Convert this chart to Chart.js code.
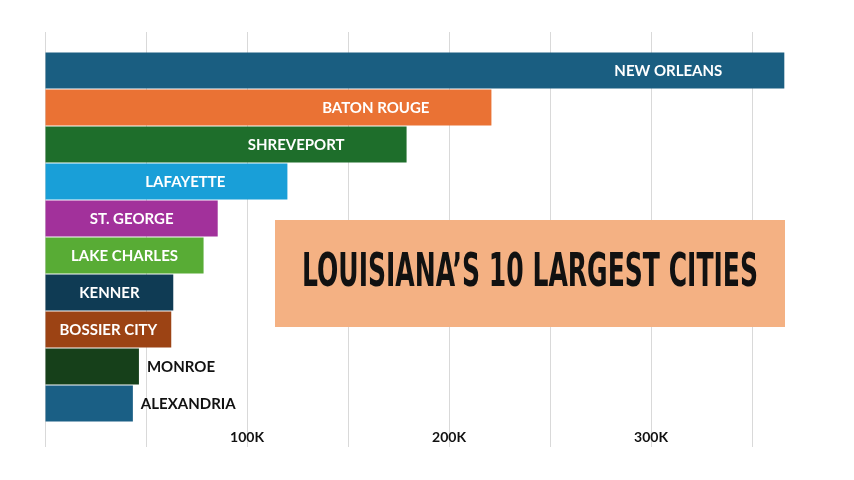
<!DOCTYPE html>
<html>
<head>
<meta charset="utf-8">
<script src="https://cdn.jsdelivr.net/npm/chart.js@4.4.1/dist/chart.umd.min.js"></script>
<style>
  html, body { margin: 0; padding: 0; background: #fff; }
  #wrap { width: 854px; height: 480px; }
</style>
</head>
<body>
<div id="wrap"><canvas id="chart" width="854" height="480"></canvas></div>
<script>
// 数据
const cities = ['NEW ORLEANS', 'BATON ROUGE', 'SHREVEPORT', 'LAFAYETTE', 'ST. GEORGE',
    'LAKE CHARLES', 'KENNER', 'BOSSIER CITY', 'MONROE', 'ALEXANDRIA'];
const population = [366000, 221000, 179000, 120000, 85500, 78500, 63500, 62500, 46500, 43500];
const gridValues = [0, 50000, 100000, 150000, 200000, 250000, 300000, 350000];
const tickLabels = ['', '', '100K', '', '200K', '', '300K', ''];
const xMax = 375000;
const title = 'LOUISIANA\u2019S 10 LARGEST CITIES';

const barColors = ['#1a5e81', '#ea7234', '#1e6e2b', '#199fd8', '#a2319b',
    '#58ac35', '#0f3b54', '#9c4314', '#16401a', '#1a5f85'];

// 固定刻度
function setTicks(scale) {
    scale.ticks = gridValues.map(v => ({ value: v }));
}

// 条形上的城市名
const barLabels = {
    id: 'barLabels',
    afterDatasetsDraw(chart) {
        const ctx = chart.ctx;
        const meta = chart.getDatasetMeta(0);
        ctx.save();
        ctx.font = 'bold 15px Lato, "Open Sans", sans-serif';
        ctx.textBaseline = 'middle';
        meta.data.forEach((bar, i) => {
            const text = cities[i];
            const w = bar.x - bar.base;
            const tw = ctx.measureText(text).width;
            const room = w - tw;
            if (room < 26) {
                ctx.fillStyle = '#111';
                ctx.textAlign = 'left';
                ctx.fillText(text, bar.x + 8, bar.y + 1);
            } else {
                const gap = Math.min(62, room / 2);
                ctx.fillStyle = '#fff';
                ctx.textAlign = 'right';
                ctx.fillText(text, bar.x - gap, bar.y + 1);
            }
        });
        ctx.restore();
    }
};

// 标题框
const titleBox = {
    id: 'titleBox',
    afterDraw(chart) {
        const ctx = chart.ctx;
        const x = 275, y = 220, w = 510, h = 107;
        ctx.save();
        ctx.fillStyle = '#f4b183';
        ctx.fillRect(x, y, w, h);
        ctx.font = 'bold 46px "Liberation Sans Narrow", "DejaVu Sans Condensed", sans-serif';
        ctx.fillStyle = '#111';
        ctx.textBaseline = 'middle';
        ctx.textAlign = 'left';
        const tw = ctx.measureText(title).width;
        const target = 456;
        ctx.translate(x + w / 2 - target / 2, y + h / 2 + 1);
        ctx.scale(target / tw, 1);
        ctx.fillText(title, 0, 0);
        ctx.restore();
    }
};

const ctx = document.getElementById('chart').getContext('2d');
new Chart(ctx, {
    type: 'bar',
    data: {
        labels: cities,
        datasets: [{
            data: population,
            backgroundColor: barColors,
            borderWidth: 0,
            categoryPercentage: 1,
            barPercentage: 0.97
        }]
    },
    options: {
        indexAxis: 'y',
        responsive: false,
        animation: false,
        layout: { padding: { left: 45, right: 51.5, top: 0, bottom: 0 } },
        plugins: { legend: { display: false }, tooltip: { enabled: false } },
        scales: {
            y: { display: false },
            x: {
                position: 'bottom',
                min: 0,
                max: xMax,
                afterBuildTicks: setTicks,
                afterFit(scale) { scale.height = 58; },
                border: { display: false },
                grid: { color: '#d9d9d9', tickColor: '#d9d9d9', lineWidth: 1, tickLength: 25 },
                ticks: {
                    autoSkip: false,
                    maxRotation: 0,
                    padding: -18,
                    color: '#111',
                    font: { family: 'Lato, "Open Sans", sans-serif', weight: 'bold', size: 14 },
                    callback: (v, i) => tickLabels[i]
                }
            },
            x2: {
                position: 'top',
                axis: 'x',
                min: 0,
                max: xMax,
                afterBuildTicks: setTicks,
                afterFit(scale) { scale.height = 52; },
                border: { display: false },
                grid: { color: '#d9d9d9', tickColor: '#d9d9d9', drawOnChartArea: false, tickLength: 20 },
                ticks: { autoSkip: false, maxRotation: 0, color: 'rgba(0,0,0,0)', font: { size: 1 }, callback: () => '' }
            }
        }
    },
    plugins: [barLabels, titleBox]
});
</script>
</body>
</html>
